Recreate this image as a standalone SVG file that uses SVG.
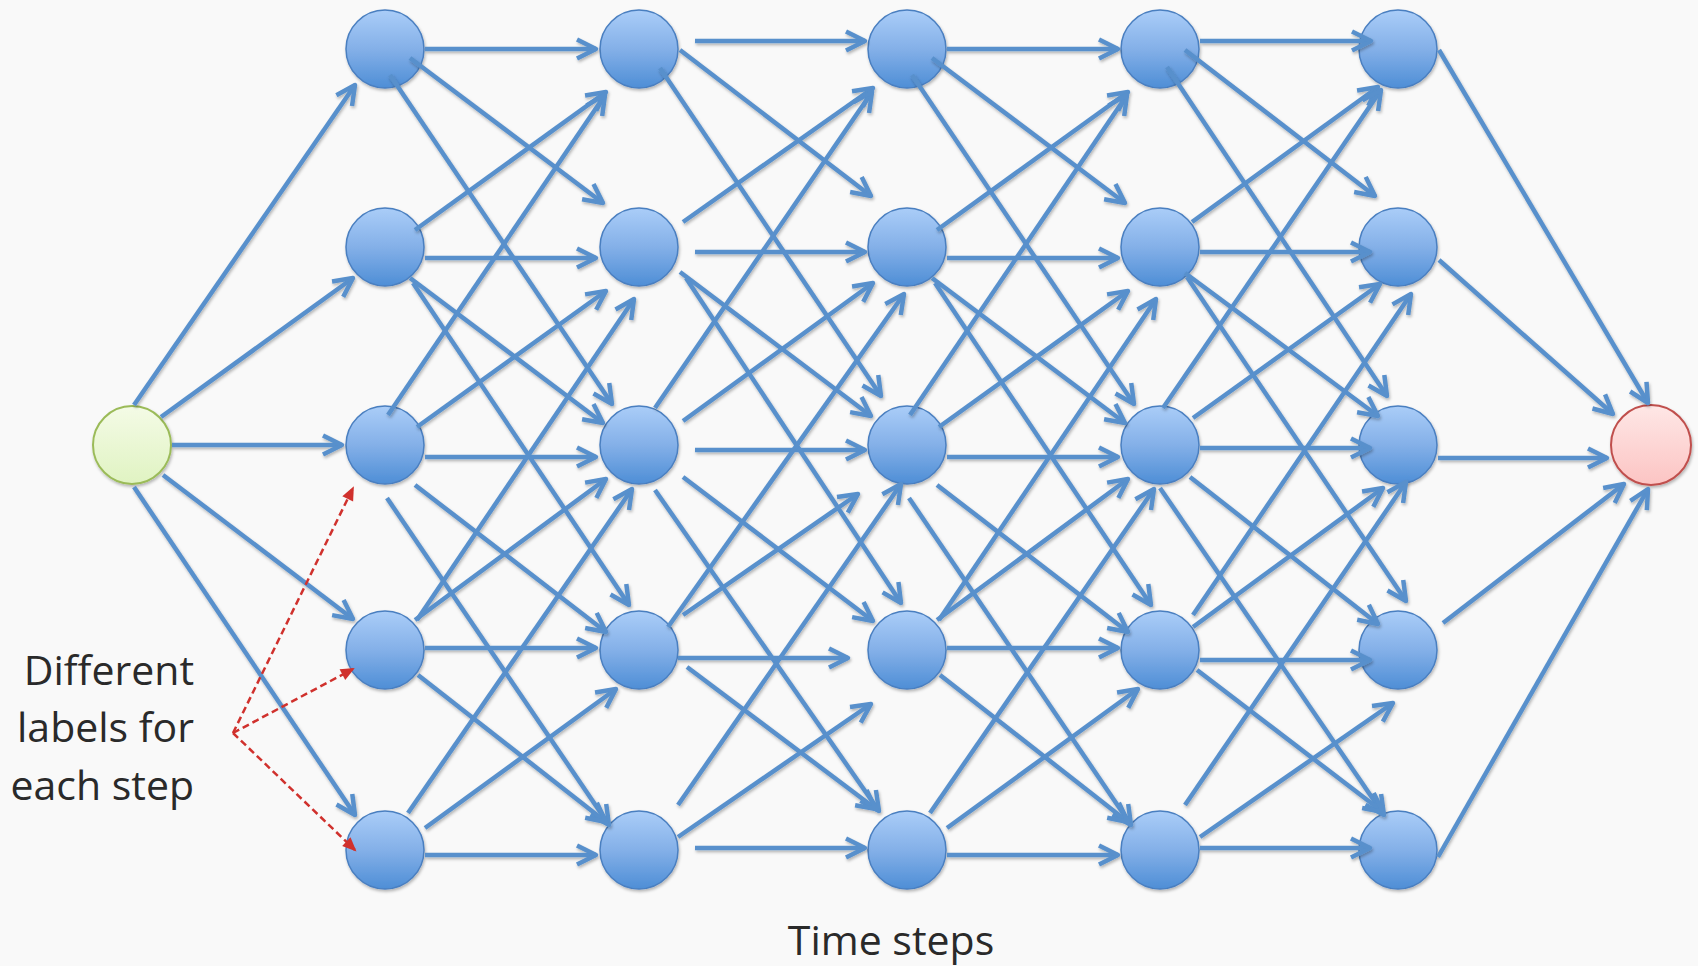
<svg xmlns="http://www.w3.org/2000/svg" width="1698" height="966" viewBox="0 0 1698 966">
  <defs>
    <style>
      .edge { stroke: #5890cc; stroke-width: 4.5; fill: none; marker-end: url(#head); }
      .node { fill: url(#blueFill); stroke: #4a7fc0; stroke-width: 1.5; }
      .note { stroke: #d0312d; stroke-width: 2.5; stroke-dasharray: 7 4; fill: none; marker-end: url(#redHead); }
      .label { font-family: "Open Sans", "Liberation Sans", sans-serif; font-size: 41px; fill: #2a2a2a; }
    </style>
    <linearGradient id="blueFill" x1="0" y1="0" x2="0" y2="1">
      <stop offset="0" stop-color="#aacdf8"/>
      <stop offset="0.5" stop-color="#84b0e8"/>
      <stop offset="1" stop-color="#4e8ed6"/>
    </linearGradient>
    <linearGradient id="greenFill" x1="0" y1="0" x2="0" y2="1">
      <stop offset="0" stop-color="#f4fbe6"/>
      <stop offset="1" stop-color="#e0f3c2"/>
    </linearGradient>
    <linearGradient id="redFill" x1="0" y1="0" x2="0" y2="1">
      <stop offset="0" stop-color="#fee7e6"/>
      <stop offset="1" stop-color="#fcc4c3"/>
    </linearGradient>
    <filter id="shadow" x="-5%" y="-5%" width="110%" height="110%">
      <feDropShadow dx="1" dy="2" stdDeviation="1.6" flood-color="#000" flood-opacity="0.28"/>
    </filter>
    <marker id="head" viewBox="-24 -14 30 28" markerWidth="30" markerHeight="28" refX="0" refY="0" orient="auto" markerUnits="userSpaceOnUse" overflow="visible">
      <path d="M-19,-9.5 L0,0 L-19,9.5" fill="none" stroke="#5890cc" stroke-width="4.5" stroke-linejoin="round" stroke-linecap="butt"/>
    </marker>
    <marker id="redHead" viewBox="-14 -8 18 16" markerWidth="18" markerHeight="16" refX="0" refY="0" orient="auto" markerUnits="userSpaceOnUse" overflow="visible">
      <path d="M2,0 L-12,-6 L-12,6 Z" fill="#d0312d"/>
    </marker>
  </defs>

  <rect width="1698" height="966" fill="#f9f9f9"/>

  <!-- nodes -->
  <g filter="url(#shadow)">
    <g id="start"><circle cx="132" cy="445" r="39" fill="url(#greenFill)" stroke="#9bbb59" stroke-width="2"/></g>

    <g id="a0"><circle class="node" cx="385" cy="49" r="39"/></g>
    <g id="a1"><circle class="node" cx="385" cy="247" r="39"/></g>
    <g id="a2"><circle class="node" cx="385" cy="445" r="39"/></g>
    <g id="a3"><circle class="node" cx="385" cy="650" r="39"/></g>
    <g id="a4"><circle class="node" cx="385" cy="850" r="39"/></g>

    <g id="b0"><circle class="node" cx="639" cy="49" r="39"/></g>
    <g id="b1"><circle class="node" cx="639" cy="247" r="39"/></g>
    <g id="b2"><circle class="node" cx="639" cy="445" r="39"/></g>
    <g id="b3"><circle class="node" cx="639" cy="650" r="39"/></g>
    <g id="b4"><circle class="node" cx="639" cy="850" r="39"/></g>

    <g id="c0"><circle class="node" cx="907" cy="49" r="39"/></g>
    <g id="c1"><circle class="node" cx="907" cy="247" r="39"/></g>
    <g id="c2"><circle class="node" cx="907" cy="445" r="39"/></g>
    <g id="c3"><circle class="node" cx="907" cy="650" r="39"/></g>
    <g id="c4"><circle class="node" cx="907" cy="850" r="39"/></g>

    <g id="d0"><circle class="node" cx="1160" cy="49" r="39"/></g>
    <g id="d1"><circle class="node" cx="1160" cy="247" r="39"/></g>
    <g id="d2"><circle class="node" cx="1160" cy="445" r="39"/></g>
    <g id="d3"><circle class="node" cx="1160" cy="650" r="39"/></g>
    <g id="d4"><circle class="node" cx="1160" cy="850" r="39"/></g>

    <g id="e0"><circle class="node" cx="1398" cy="49" r="39"/></g>
    <g id="e1"><circle class="node" cx="1398" cy="247" r="39"/></g>
    <g id="e2"><circle class="node" cx="1398" cy="445" r="39"/></g>
    <g id="e3"><circle class="node" cx="1398" cy="650" r="39"/></g>
    <g id="e4"><circle class="node" cx="1398" cy="850" r="39"/></g>

    <g id="end"><circle cx="1651" cy="445" r="40" fill="url(#redFill)" stroke="#c0504d" stroke-width="2"/></g>
  </g>

  <!-- connectors -->
  <g id="connectors" filter="url(#shadow)">
    <!-- start to first step -->
    <line class="edge" x1="134" y1="405" x2="355" y2="85"/>
    <line class="edge" x1="161" y1="417" x2="353" y2="278"/>
    <line class="edge" x1="172" y1="445" x2="342" y2="445"/>
    <line class="edge" x1="163" y1="475" x2="353" y2="619"/>
    <line class="edge" x1="134" y1="487" x2="355" y2="815"/>

    <!-- step a to step b -->
    <line class="edge" x1="425" y1="49" x2="596" y2="49"/>
    <line class="edge" x1="410" y1="58" x2="603" y2="203"/>
    <line class="edge" x1="390" y1="75" x2="612" y2="404"/>
    <line class="edge" x1="415" y1="230" x2="606" y2="92"/>
    <line class="edge" x1="425" y1="258" x2="596" y2="258"/>
    <line class="edge" x1="410" y1="278" x2="603" y2="423"/>
    <line class="edge" x1="413" y1="283" x2="629" y2="605"/>
    <line class="edge" x1="388" y1="415" x2="605" y2="95"/>
    <line class="edge" x1="417" y1="427" x2="606" y2="291"/>
    <line class="edge" x1="425" y1="457" x2="596" y2="457"/>
    <line class="edge" x1="415" y1="485" x2="606" y2="632"/>
    <line class="edge" x1="387" y1="498" x2="609" y2="825"/>
    <line class="edge" x1="417" y1="620" x2="634" y2="299"/>
    <line class="edge" x1="415" y1="620" x2="606" y2="479"/>
    <line class="edge" x1="425" y1="648" x2="596" y2="648"/>
    <line class="edge" x1="418" y1="675" x2="606" y2="822"/>
    <line class="edge" x1="408" y1="813" x2="632" y2="489"/>
    <line class="edge" x1="425" y1="828" x2="616" y2="689"/>
    <line class="edge" x1="425" y1="855" x2="596" y2="855"/>

    <!-- step b to step c -->
    <line class="edge" x1="695" y1="41" x2="865" y2="41"/>
    <line class="edge" x1="680" y1="50" x2="871" y2="196"/>
    <line class="edge" x1="660" y1="68" x2="881" y2="396"/>
    <line class="edge" x1="683" y1="222" x2="873" y2="88"/>
    <line class="edge" x1="695" y1="252" x2="865" y2="252"/>
    <line class="edge" x1="680" y1="272" x2="871" y2="416"/>
    <line class="edge" x1="686" y1="278" x2="901" y2="603"/>
    <line class="edge" x1="655" y1="408" x2="872" y2="92"/>
    <line class="edge" x1="683" y1="421" x2="873" y2="283"/>
    <line class="edge" x1="695" y1="450" x2="865" y2="450"/>
    <line class="edge" x1="683" y1="477" x2="873" y2="621"/>
    <line class="edge" x1="655" y1="490" x2="879" y2="811"/>
    <line class="edge" x1="668" y1="627" x2="904" y2="294"/>
    <line class="edge" x1="683" y1="615" x2="858" y2="494"/>
    <line class="edge" x1="678" y1="658" x2="848" y2="658"/>
    <line class="edge" x1="687" y1="667" x2="876" y2="809"/>
    <line class="edge" x1="678" y1="805" x2="901" y2="484"/>
    <line class="edge" x1="678" y1="837" x2="871" y2="704"/>
    <line class="edge" x1="695" y1="848" x2="865" y2="848"/>

    <!-- step c to step d -->
    <line class="edge" x1="947" y1="49" x2="1118" y2="49"/>
    <line class="edge" x1="932" y1="58" x2="1125" y2="203"/>
    <line class="edge" x1="912" y1="75" x2="1134" y2="404"/>
    <line class="edge" x1="937" y1="230" x2="1128" y2="92"/>
    <line class="edge" x1="947" y1="258" x2="1118" y2="258"/>
    <line class="edge" x1="932" y1="278" x2="1125" y2="423"/>
    <line class="edge" x1="935" y1="283" x2="1151" y2="605"/>
    <line class="edge" x1="910" y1="415" x2="1127" y2="95"/>
    <line class="edge" x1="939" y1="427" x2="1128" y2="291"/>
    <line class="edge" x1="947" y1="457" x2="1118" y2="457"/>
    <line class="edge" x1="937" y1="485" x2="1128" y2="632"/>
    <line class="edge" x1="909" y1="498" x2="1131" y2="825"/>
    <line class="edge" x1="939" y1="620" x2="1156" y2="299"/>
    <line class="edge" x1="937" y1="620" x2="1128" y2="479"/>
    <line class="edge" x1="947" y1="648" x2="1118" y2="648"/>
    <line class="edge" x1="940" y1="675" x2="1128" y2="822"/>
    <line class="edge" x1="930" y1="813" x2="1154" y2="489"/>
    <line class="edge" x1="947" y1="828" x2="1138" y2="689"/>
    <line class="edge" x1="947" y1="855" x2="1118" y2="855"/>

    <!-- step d to step e -->
    <line class="edge" x1="1200" y1="41" x2="1371" y2="41"/>
    <line class="edge" x1="1185" y1="50" x2="1375" y2="196"/>
    <line class="edge" x1="1167" y1="67" x2="1387" y2="396"/>
    <line class="edge" x1="1192" y1="222" x2="1378" y2="87"/>
    <line class="edge" x1="1200" y1="252" x2="1370" y2="252"/>
    <line class="edge" x1="1185" y1="273" x2="1378" y2="416"/>
    <line class="edge" x1="1187" y1="277" x2="1406" y2="601"/>
    <line class="edge" x1="1163" y1="408" x2="1381" y2="90"/>
    <line class="edge" x1="1193" y1="418" x2="1380" y2="284"/>
    <line class="edge" x1="1200" y1="448" x2="1370" y2="448"/>
    <line class="edge" x1="1190" y1="477" x2="1378" y2="624"/>
    <line class="edge" x1="1160" y1="488" x2="1384" y2="815"/>
    <line class="edge" x1="1193" y1="615" x2="1411" y2="294"/>
    <line class="edge" x1="1193" y1="627" x2="1383" y2="488"/>
    <line class="edge" x1="1200" y1="660" x2="1370" y2="660"/>
    <line class="edge" x1="1197" y1="670" x2="1383" y2="812"/>
    <line class="edge" x1="1185" y1="805" x2="1406" y2="482"/>
    <line class="edge" x1="1200" y1="837" x2="1393" y2="703"/>
    <line class="edge" x1="1200" y1="848" x2="1370" y2="848"/>

    <!-- last step to end -->
    <line class="edge" x1="1439" y1="50" x2="1648" y2="403"/>
    <line class="edge" x1="1439" y1="260" x2="1613" y2="414"/>
    <line class="edge" x1="1438" y1="458" x2="1607" y2="458"/>
    <line class="edge" x1="1443" y1="623" x2="1624" y2="484"/>
    <line class="edge" x1="1438" y1="857" x2="1648" y2="489"/>
  </g>

  <!-- callout -->
  <g id="callout">
    <line class="note" x1="233" y1="733" x2="353" y2="488"/>
    <line class="note" x1="233" y1="733" x2="353" y2="669"/>
    <line class="note" x1="233" y1="733" x2="355" y2="850"/>
    <text class="label" x="194" y="685" text-anchor="end">Different</text>
    <text class="label" x="194" y="742" text-anchor="end">labels for</text>
    <text class="label" x="194" y="800" text-anchor="end">each step</text>
  </g>

  <text id="axis-label" class="label" x="891" y="955" text-anchor="middle">Time steps</text>
</svg>
